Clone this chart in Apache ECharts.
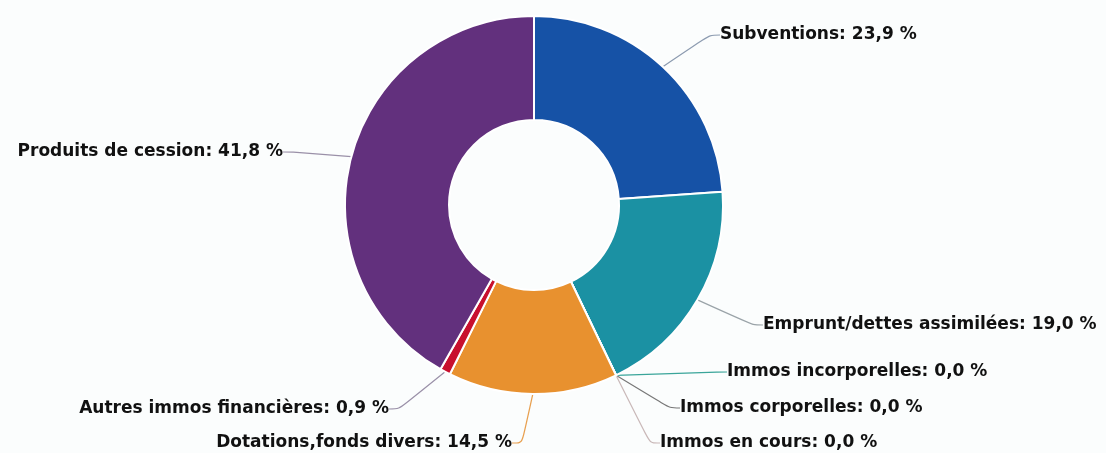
<!DOCTYPE html>
<html>
<head>
<meta charset="utf-8">
<script src="https://cdn.jsdelivr.net/npm/echarts@6/dist/echarts.min.js"></script>
<style>
  html, body { margin: 0; padding: 0; background: #fbfdfd; }
  #chart { width: 1106px; height: 453px; }
</style>
</head>
<body>
<div id="chart"></div>
<script>
// données du graphique
var categories = ['Subventions', 'Emprunt/dettes assimilées', 'Immos incorporelles',
  'Immos corporelles', 'Immos en cours', 'Dotations,fonds divers',
  'Autres immos financières', 'Produits de cession'];
var percents = [23.9, 19.0, 0.0, 0.0, 0.0, 14.5, 0.9, 41.8];

// couleurs des parts et des traits
var sliceColors = ['#1652a6', '#1b91a3', '#2a9a8e', '#6d6d6d', '#c9b3b3', '#e8912f', '#c8102e', '#62307d'];
var lineColors = ['#8c9bb0', '#9aa3a8', '#3aa59a', '#777777', '#c9b8b8', '#e8a050', '#9a90a8', '#9a90a8'];

// position des étiquettes [x, y, alignement]
var labelPos = [
  [720, 35, 'left'],
  [763, 325, 'left'],
  [727, 372, 'left'],
  [680, 408, 'left'],
  [660, 443, 'left'],
  [512, 443, 'right'],
  [389, 409, 'right'],
  [283, 152, 'right']
];

var chartData = [];
for (var i = 0; i < categories.length; i++) {
  chartData.push({
    name: categories[i],
    value: percents[i],
    itemStyle: { color: sliceColors[i] },
    labelLine: { lineStyle: { color: lineColors[i] } }
  });
}

var myChart = echarts.init(document.getElementById('chart'));
myChart.setOption({
  backgroundColor: '#fbfdfd',
  animation: false,
  series: [{
    type: 'pie',
    center: [534, 205],
    radius: [85, 189],
    startAngle: 90,
    clockwise: true,
    stillShowZeroSum: true,
    itemStyle: { borderColor: '#ffffff', borderWidth: 2 },
    label: {
      show: true,
      color: '#111111',
      fontFamily: 'DejaVu Sans',
      fontWeight: 'bold',
      fontSize: 17,
      formatter: function(p) {
        return p.name + ': ' + p.value.toFixed(1).replace('.', ',') + ' %';
      }
    },
    labelLine: { show: true, length: 15, length2: 10, smooth: 0.3, lineStyle: { width: 1.2 } },
    labelLayout: function(params) {
      var pos = labelPos[params.dataIndex];
      return { x: pos[0], y: pos[1], align: pos[2], verticalAlign: 'middle' };
    },
    data: chartData
  }]
});
</script>
</body>
</html>
